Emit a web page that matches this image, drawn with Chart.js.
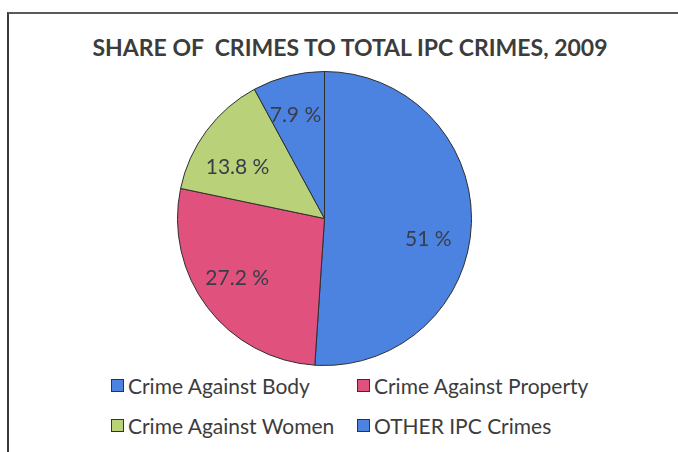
<!DOCTYPE html>
<html>
<head>
<meta charset="utf-8">
<script src="https://cdn.jsdelivr.net/npm/chart.js@4/dist/chart.umd.min.js"></script>
<style>
  html, body { margin: 0; padding: 0; background: #fff; }
  body { width: 678px; height: 452px; position: relative; overflow: hidden; font-family: Lato, "Open Sans", sans-serif; }
  #frame { position: absolute; left: 7px; top: 12px; width: 720px; height: 500px; border-left: 2px solid #3a3a3a; border-top: 2px solid #5a5a5a; }
  #title { position: absolute; left: 0; width: 700px; top: 33px; text-align: center; font-weight: bold; font-size: 23px; color: #3c3c3c; white-space: pre; }
  #pie-wrap { position: absolute; left: 177px; top: 71px; width: 295px; height: 295px; }
  #legend { position: absolute; left: 111px; top: 372px; display: grid; grid-template-columns: 246px auto; row-gap: 14px; font-size: 21px; color: #3c3c3c; }
  .item { display: flex; align-items: center; height: 26px; }
  .box { width: 11px; height: 11px; border: 1px solid #333; margin-right: 4px; }
</style>
</head>
<body>
<div id="frame"></div>
<div id="title"></div>
<div id="pie-wrap"><canvas id="chart"></canvas></div>
<div id="legend"></div>
<script>
const titleText = "SHARE OF  CRIMES TO TOTAL IPC CRIMES, 2009";
const categories = ["Crime Against Body", "Crime Against Property", "Crime Against Women", "OTHER IPC Crimes"];
const shares = [51, 27.2, 13.8, 7.9];
const shareLabels = ["51 %", "27.2 %", "13.8 %", "7.9 %"];
const sliceColors = ["#4c83e0", "#e0517e", "#b9d27a", "#4c83e0"];

// small nudges so the percent text sits like a best-fit placement
const labelNudge = [[-2, 17], [-3, -4], [-2, 12], [-3, -1]];

document.getElementById("title").textContent = titleText;

// legend as a two column grid under the pie
const legend = document.getElementById("legend");
categories.forEach((name, i) => {
  const item = document.createElement("div");
  item.className = "item";
  const box = document.createElement("span");
  box.className = "box";
  box.style.background = sliceColors[i];
  const text = document.createElement("span");
  text.textContent = name;
  item.appendChild(box);
  item.appendChild(text);
  legend.appendChild(item);
});

// percent text inside each slice
const sliceLabels = {
  id: "sliceLabels",
  afterDatasetsDraw(chart) {
    const ctx = chart.ctx;
    const meta = chart.getDatasetMeta(0);
    ctx.save();
    ctx.font = "21px Lato, 'Open Sans', sans-serif";
    ctx.fillStyle = "#3a3d48";
    ctx.textAlign = "center";
    ctx.textBaseline = "middle";
    meta.data.forEach((arc, i) => {
      const p = arc.getProps(["x", "y", "startAngle", "endAngle", "outerRadius"], true);
      const mid = (p.startAngle + p.endAngle) / 2;
      const r = p.outerRadius * 0.72;
      ctx.fillText(shareLabels[i],
        p.x + Math.cos(mid) * r + labelNudge[i][0],
        p.y + Math.sin(mid) * r + labelNudge[i][1]);
    });
    ctx.restore();
  }
};

new Chart(document.getElementById("chart"), {
  type: "pie",
  data: {
    labels: categories,
    datasets: [{
      data: shares,
      backgroundColor: sliceColors,
      borderColor: "#2e2e2e",
      borderWidth: 1
    }]
  },
  options: {
    responsive: true,
    maintainAspectRatio: false,
    animation: false,
    plugins: {
      legend: { display: false },
      tooltip: { enabled: false }
    }
  },
  plugins: [sliceLabels]
});
</script>
</body>
</html>
